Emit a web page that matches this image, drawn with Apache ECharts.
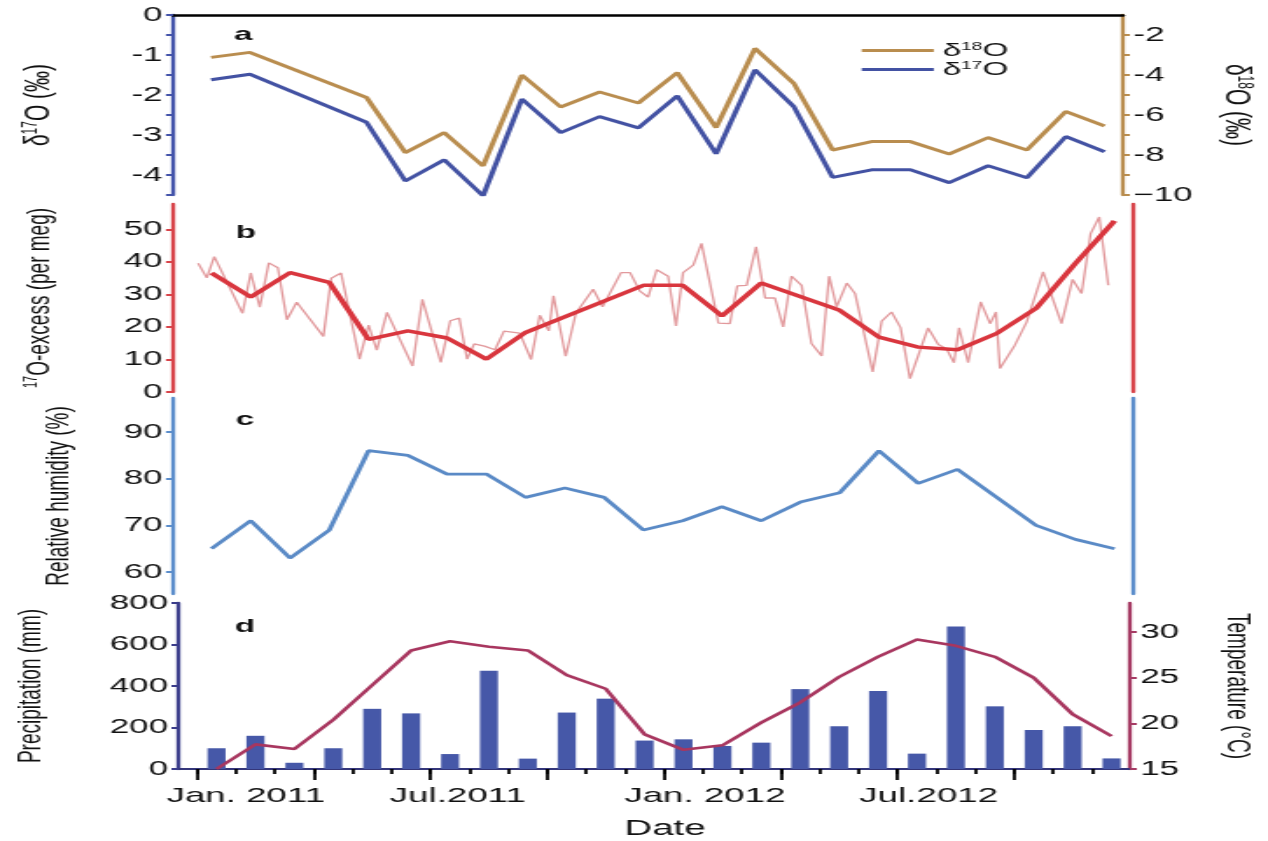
<!DOCTYPE html>
<html><head><meta charset="utf-8">
<script src="https://cdn.jsdelivr.net/npm/echarts@6/dist/echarts.min.js"></script>
<style>
html,body{margin:0;padding:0;background:#fff;overflow:hidden;}
#wrap{width:1268px;height:841px;overflow:hidden;position:relative;background:#fff;}
#chart{width:725px;height:841px;transform-origin:0 0;position:absolute;left:0;top:0;}
</style></head><body><div id="wrap"><div id="chart"></div></div>
<script>
// ---------------- DATA ----------------
// x positions are in months since 1 Jan 2011 (month centres at m + 0.5)
const monthCenters = [0.5,1.5,2.5,3.5,4.5,5.5,6.5,7.5,8.5,9.5,10.5,11.5,12.5,13.5,14.5,15.5,16.5,17.5,18.5,19.5,20.5,21.5,22.5,23.5];

// panel a : isotope vertices (months with a visible vertex)
const isoMonths = [0.5,1.5,4.5,5.5,6.5,7.5,8.5,9.5,10.5,11.5,12.5,13.5,14.5,15.5,16.5,17.5,18.5,19.5,20.5,21.5,22.5,23.5];
const d18O = [-3.12,-2.87,-5.12,-7.88,-6.88,-8.55,-4.0,-5.6,-4.85,-5.4,-3.88,-6.63,-2.67,-4.42,-7.75,-7.33,-7.33,-7.95,-7.13,-7.75,-5.83,-6.55];
const d17O = [-1.62,-1.48,-2.68,-4.15,-3.62,-4.52,-2.1,-2.94,-2.54,-2.82,-2.02,-3.47,-1.37,-2.29,-4.06,-3.87,-3.87,-4.19,-3.77,-4.07,-3.04,-3.42];

// panel b : 17O-excess, monthly mean (thick) and individual samples (thin)
const excessMonthlyX = [0.5,1.5,2.5,3.5,4.5,5.5,6.5,7.5,8.5,11.5,12.5,13.5,14.5,16.5,17.5,18.5,19.5,20.5,21.5,22.5,23.5];
const excessMonthly = [36.6,29.2,36.7,33.7,16.2,18.8,16.6,10.1,18.3,32.8,32.8,23.4,33.5,25.1,16.9,13.8,13.0,18.0,25.7,39.5,52.6];
const excessSampleX = [0.16,0.38,0.57,1.29,1.50,1.73,1.96,2.19,2.42,2.67,3.35,3.55,3.80,4.27,4.50,4.71,4.97,5.62,5.87,6.34,6.58,6.81,7.01,7.19,7.45,7.72,7.95,8.35,8.64,8.86,9.09,9.21,9.52,9.78,10.22,10.46,10.93,11.16,11.41,11.62,11.84,12.13,12.33,12.51,12.77,12.98,13.41,13.70,13.89,14.13,14.37,14.60,14.85,15.06,15.27,15.53,15.78,16.04,16.23,16.42,16.68,16.89,17.34,17.57,17.82,18.05,18.29,18.75,19.01,19.22,19.41,19.54,19.77,20.09,20.33,20.48,20.58,20.96,21.26,21.68,22.15,22.43,22.66,22.89,23.11,23.34];
const excessSample = [39.6,35.1,41.6,24.2,36.6,26.1,39.7,38.2,22.2,27.6,17.1,35,36.6,10.1,20.6,12.9,24.5,8.0,28.5,9.1,21.9,22.7,10.1,14.8,14.1,13.0,18.7,18.1,10.0,23.6,18.8,29.6,11.0,24.2,31.6,26.2,36.7,36.7,31.0,29.2,37.6,35.6,20.3,36.7,39.0,45.7,21.2,21.0,32.6,32.8,44.6,28.9,28.9,20.0,35.6,32.8,14.9,11.1,35.6,26.2,33.5,30.3,6.2,21.8,24.6,19.8,4.1,19.7,14.6,13.3,9.0,19.7,9.0,27.7,21.0,24.6,7.2,14.4,21.5,36.9,21.0,34.6,30.3,48.7,53.8,32.8];

// panel c : relative humidity (%)
const humidity = [65,71,63,69,86,85,81,81,76,78,76,69,71,74,71,75,77,86,79,82,76,70,67,65];

// panel d : precipitation (mm) and temperature (°C)
const precipitation = [100,160,30,100,290,268,72,474,50,272,339,137,143,111,127,385,206,376,74,687,302,188,206,51];
const temperature = [15.0,17.7,17.2,20.4,24.2,28.0,29.0,28.4,28.0,25.3,23.8,18.8,17.1,17.6,20.1,22.3,25.1,27.3,29.2,28.5,27.3,25.0,21.0,18.6];

// axis ticks / labels
const monthTicks = [0,1,2,3,4,5,6,7,8,9,10,11,12,13,14,15,16,17,18,19,20,21,22,23];
const quarterTicks = [0,3,6,9,12,15,18,21];
const xLabels = ['Jan. 2011','Jul.2011','Jan. 2012','Jul.2012'];
const aLeftTicks = [0,-0.5,-1,-1.5,-2,-2.5,-3,-3.5,-4,-4.5];
const aLeftLabels = [0,-1,-2,-3,-4];
const aRightTicks = [-2,-3,-4,-5,-6,-7,-8,-9,-10];
const aRightLabels = [-2,-4,-6,-8,-10];
const bTicks = [0,10,20,30,40,50];
const cTicks = [60,70,80,90];
const dLeftTicks = [0,200,400,600,800];
const dRightTicks = [15,20,25,30];

// ---------------- LAYOUT ----------------
const W = 725, H = 841, S = 1268 / W;   // horizontal stretch of the original figure
const X = px => px / S;                  // real x pixel -> chart coordinate
const xLabelPos = [1.25, 6.7, 13.05, 18.8];
const FONT = 'Liberation Sans, Arial, Helvetica, sans-serif';
const TXT = '#111';

const dom = document.getElementById('chart');
dom.style.transform = 'scaleX(' + S + ')';
const chart = echarts.init(dom, null, {width: W, height: H, renderer: 'canvas'});

const GL = X(173), GR = W - X(1133);
const pair = (xs, ys) => xs.map((x, i) => [x, ys[i]]);

const richName = {
  n: {fontFamily: FONT, fontSize: 19, color: TXT},
  s: {fontFamily: FONT, fontSize: 11, color: TXT, verticalAlign: 'top'}
};
const richBig = {
  n: {fontFamily: FONT, fontSize: 21, color: TXT},
  s: {fontFamily: FONT, fontSize: 12, color: TXT, verticalAlign: 'top'}
};

function yAxis(o) {
  return {
    type: 'value', gridIndex: o.grid, position: o.pos, min: o.min, max: o.max,
    splitLine: {show: false},
    axisLine: {show: true, onZero: false, lineStyle: {color: o.color, width: 2.3}},
    axisTick: o.ticks ? {show: true, length: 4, customValues: o.ticks, lineStyle: {color: o.color, width: 2}} : {show: false},
    axisLabel: o.labels ? {show: true, customValues: o.labels, margin: 6, fontFamily: FONT, fontSize: 20, color: TXT,
      formatter: o.fmt || (v => String(v))} : {show: false},
    name: o.name || '', nameLocation: 'middle', nameGap: o.gap || 0, nameRotate: o.rot,
    nameTextStyle: {fontFamily: FONT, fontSize: o.big ? 21 : 19, color: TXT, rich: o.big ? richBig : richName}
  };
}

const xBase = (grid) => ({type: 'value', gridIndex: grid, min: -0.48, max: 23.97, splitLine: {show: false}});

const option = {
  backgroundColor: '#fff',
  animation: false,
  grid: [
    {left: GL, right: GR, top: 15, height: 180},
    {left: GL, right: GR, top: 204, height: 188},
    {left: GL, right: GR, top: 398, height: 196},
    {left: GL, right: GR, top: 603, height: 166}
  ],
  xAxis: [
    Object.assign(xBase(0), {position: 'top', axisLine: {show: true, onZero: false, lineStyle: {color: '#000', width: 2.5}}, axisTick: {show: false}, axisLabel: {show: false}}),
    Object.assign(xBase(1), {show: false}),
    Object.assign(xBase(2), {show: false}),
    Object.assign(xBase(3), {position: 'bottom',
      axisLine: {show: true, onZero: false, lineStyle: {color: '#34367a', width: 2}},
      axisTick: {show: true, length: 5, customValues: monthTicks, lineStyle: {color: '#000', width: 1.8}},
      axisLabel: {show: true, customValues: xLabelPos, margin: 17, fontFamily: FONT, fontSize: 21, color: TXT,
        formatter: v => { const i = xLabelPos.findIndex(p => Math.abs(p - v) < 1e-6); return i >= 0 ? xLabels[i] : ''; }}}),
    Object.assign(xBase(3), {position: 'bottom',
      axisLine: {show: false},
      axisTick: {show: true, length: 11, customValues: quarterTicks, lineStyle: {color: '#000', width: 1.8}},
      axisLabel: {show: false}})
  ],
  yAxis: [
    yAxis({grid: 0, pos: 'left', min: -4.5, max: 0, color: '#4454aa', ticks: aLeftTicks, labels: aLeftLabels,
      name: '{n|δ}{s|17}{n|O (‰)}', gap: 66, big: true}),
    yAxis({grid: 0, pos: 'right', min: -10, max: -1, color: '#b98d4f', ticks: aRightTicks, labels: aRightLabels,
      fmt: v => v === -10 ? '\u221210' : String(v), name: '{n|δ}{s|18}{n|O (‰)}', gap: 54, rot: -90, big: true}),
    yAxis({grid: 1, pos: 'left', min: 0, max: 57.8, color: '#d8444a', ticks: bTicks, labels: bTicks,
      name: '{s|17}{n|O-excess (per meg)}', gap: 67}),
    yAxis({grid: 1, pos: 'right', min: 0, max: 57.8, color: '#d8444a'}),
    yAxis({grid: 2, pos: 'left', min: 55.3, max: 97.3, color: '#5b8dcb', ticks: cTicks, labels: cTicks,
      name: 'Relative humidity (%)', gap: 56}),
    yAxis({grid: 2, pos: 'right', min: 55.3, max: 97.3, color: '#5b8dcb'}),
    yAxis({grid: 3, pos: 'left', min: 0, max: 800, color: '#3a3c8a', ticks: dLeftTicks, labels: dLeftTicks,
      name: 'Precipitation (mm)', gap: 75}),
    yAxis({grid: 3, pos: 'right', min: 15, max: 33.2, color: '#a53a63', ticks: dRightTicks, labels: dRightTicks,
      name: 'Temperature (°C)', gap: 52, rot: -90})
  ],
  legend: {
    orient: 'vertical', left: X(853), top: 36, itemWidth: X(72), itemHeight: 3, itemGap: 0, icon: 'rect',
    data: ['δ18O', 'δ17O'],
    formatter: name => name === 'δ18O' ? '{n|δ}{s|18}{n|O}' : '{n|δ}{s|17}{n|O}',
    textStyle: {fontFamily: FONT, fontSize: 19, color: TXT, rich: richName}
  },
  graphic: [
    {type: 'text', x: X(243), y: 35, style: {text: 'a', font: 'bold 19px ' + FONT, fill: '#111', textAlign: 'center', textVerticalAlign: 'middle'}},
    {type: 'text', x: X(246), y: 233, style: {text: 'b', font: 'bold 19px ' + FONT, fill: '#111', textAlign: 'center', textVerticalAlign: 'middle'}},
    {type: 'text', x: X(245), y: 420, style: {text: 'c', font: 'bold 19px ' + FONT, fill: '#111', textAlign: 'center', textVerticalAlign: 'middle'}},
    {type: 'text', x: X(245), y: 627, style: {text: 'd', font: 'bold 19px ' + FONT, fill: '#111', textAlign: 'center', textVerticalAlign: 'middle'}},
    {type: 'text', x: X(665), y: 829, style: {text: 'Date', font: '22px ' + FONT, fill: '#111', textAlign: 'center', textVerticalAlign: 'middle'}}
  ],
  series: [
    {name: 'δ18O', type: 'line', xAxisIndex: 0, yAxisIndex: 1, data: pair(isoMonths, d18O), symbol: 'none',
      lineStyle: {color: '#b98d4f', width: 3}, itemStyle: {color: '#b98d4f'}, z: 3},
    {name: 'δ17O', type: 'line', xAxisIndex: 0, yAxisIndex: 0, data: pair(isoMonths, d17O), symbol: 'none',
      lineStyle: {color: '#4352a3', width: 3}, itemStyle: {color: '#4352a3'}, z: 3},
    {name: 'samples', type: 'line', xAxisIndex: 1, yAxisIndex: 2, data: pair(excessSampleX, excessSample), symbol: 'none',
      lineStyle: {color: '#e2999c', width: 1.3}, z: 2},
    {name: 'monthly', type: 'line', xAxisIndex: 1, yAxisIndex: 2, data: pair(excessMonthlyX, excessMonthly), symbol: 'none',
      lineStyle: {color: '#d9363e', width: 3.5}, z: 3},
    {name: 'RH', type: 'line', xAxisIndex: 2, yAxisIndex: 4, data: pair(monthCenters, humidity), symbol: 'none',
      lineStyle: {color: '#5a8ac6', width: 2.8}, z: 3},
    {name: 'Precipitation', type: 'bar', xAxisIndex: 3, yAxisIndex: 6, data: pair(monthCenters, precipitation),
      barWidth: X(18), itemStyle: {color: '#4658a8'}, z: 2},
    {name: 'Temperature', type: 'line', xAxisIndex: 3, yAxisIndex: 7, data: pair(monthCenters, temperature), symbol: 'none',
      lineStyle: {color: '#a8365f', width: 2.6}, z: 3}
  ]
};
chart.setOption(option);
</script>
</body></html>
